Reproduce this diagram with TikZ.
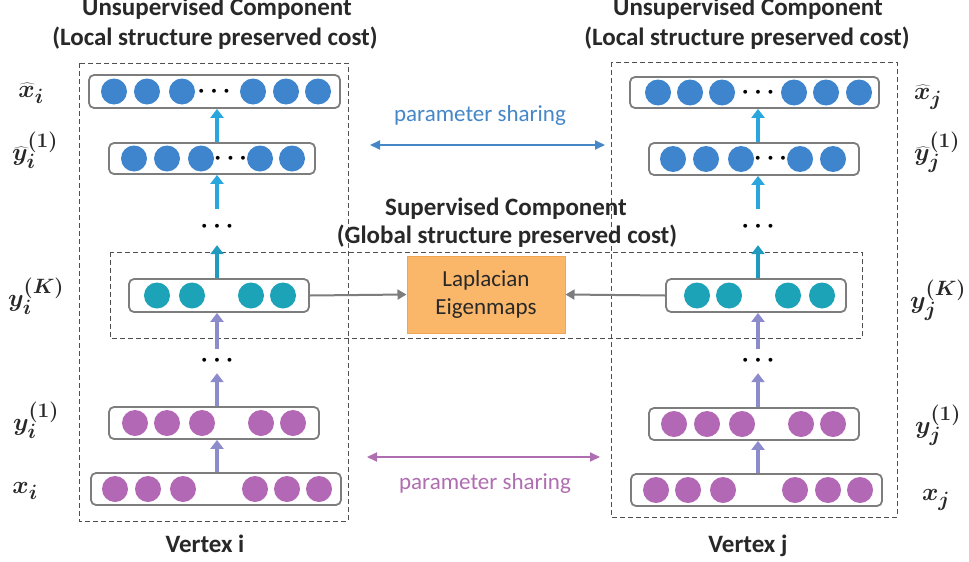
\documentclass[tikz,border=0pt]{standalone}
\usepackage{fontspec}
\setmainfont{Carlito}
\usepackage{bm}
\usetikzlibrary{arrows.meta}
\definecolor{cblue}{RGB}{62,133,205}
\definecolor{cteal}{RGB}{28,163,183}
\definecolor{cpurple}{RGB}{178,104,180}
\definecolor{aLight}{RGB}{41,166,221}
\definecolor{aTeal}{RGB}{30,155,190}
\definecolor{aLav}{RGB}{140,140,204}
\definecolor{boxgray}{RGB}{125,125,125}
\definecolor{lapfill}{RGB}{250,183,106}
\definecolor{lapdraw}{RGB}{240,165,85}
\definecolor{psblue}{RGB}{70,135,200}
\definecolor{pspurple}{RGB}{176,110,178}
\definecolor{txt}{RGB}{40,40,40}
\definecolor{dashgray}{RGB}{80,80,80}
\begin{document}
\begin{tikzpicture}[x=1pt,y=-1pt,
  rowbox/.style={draw=boxgray,line width=1.8pt,rounded corners=5pt,fill=white,inner sep=0pt},
  unit/.style={circle,inner sep=0pt,minimum size=26pt},
  dotsnode/.style={inner sep=0pt,text=black,font=\fontsize{30}{30}\selectfont},
  vdots/.style={inner sep=0pt,text=black,font=\fontsize{30}{30}\selectfont},
  bigarrow/.style={line width=4pt,-{Triangle[width=13pt,length=9pt]}},
  grayarrow/.style={draw=boxgray,line width=2pt,-{Triangle[width=10pt,length=9pt]}},
  psarrow/.style={line width=1.8pt,{Triangle[width=9pt,length=10pt]}-{Triangle[width=9pt,length=10pt]}},
  grpbox/.style={draw=dashgray,line width=0.9pt,dash pattern=on 5pt off 3pt},
  title/.style={text=txt,font=\bfseries\fontsize{25}{28}\selectfont,inner sep=0pt,anchor=base},
  pslabel/.style={font=\fontsize{23}{24}\selectfont,inner sep=0pt},
  mlabel/.style={text=txt,font=\fontsize{30}{30}\selectfont,inner sep=0pt}
]
\useasboundingbox (0,0) rectangle (969,562);
\fill[white] (0,0) rectangle (969,562);

% group boxes
\draw[grpbox] (79,63) rectangle (348,521);
\draw[grpbox] (611,62) rectangle (897,517);
\draw[grpbox] (110,252) rectangle (862,338);

% titles
\node[title] (tL1) at (217,16) {Unsupervised Component};
\node[title] (tL2) at (215,45) {(Local structure preserved cost)};
\node[title] (tR1) at (748,16) {Unsupervised Component};
\node[title] (tR2) at (747,45) {(Local structure preserved cost)};
\node[title] (tS1) at (506,215) {Supervised Component};
\node[title] (tS2) at (507,243) {(Global structure preserved cost)};
\node[title] (vI) at (205,552) {Vertex i};
\node[title] (vJ) at (748,552) {Vertex j};

% vertical dots
\node[vdots,minimum height=36pt] (dA) at (217,227) {$\bm{\cdots}$};
\node[vdots,minimum height=24pt] (dC) at (217,361) {$\bm{\cdots}$};
\node[vdots,minimum height=36pt] (dB) at (758,227) {$\bm{\cdots}$};
\node[vdots,minimum height=24pt] (dD) at (758,361) {$\bm{\cdots}$};

% left rows
\node[rowbox,minimum width=251pt,minimum height=33pt] (L1) at (214.5,91.5) {};
\node[rowbox,minimum width=206pt,minimum height=31pt] (L2) at (212,158.5) {};
\node[rowbox,minimum width=180pt,minimum height=33pt] (L3) at (219,295.5) {};
\node[rowbox,minimum width=210pt,minimum height=32pt] (L4) at (214,423) {};
\node[rowbox,minimum width=250pt,minimum height=32pt] (L5) at (216,489) {};
% right rows
\node[rowbox,minimum width=249pt,minimum height=31pt] (R1) at (754.5,92.5) {};
\node[rowbox,minimum width=210pt,minimum height=32pt] (R2) at (754,159) {};
\node[rowbox,minimum width=180pt,minimum height=33pt] (R3) at (756,295.5) {};
\node[rowbox,minimum width=210pt,minimum height=32pt] (R4) at (754,424) {};
\node[rowbox,minimum width=251pt,minimum height=32pt] (R5) at (756.5,490) {};

% units
\foreach \x [count=\k] in {114,147,182,253,286,318} \node[unit,fill=cblue] (L1u\k) at (\x,91.5) {};
\foreach \x [count=\k] in {134,167,201,260,292} \node[unit,fill=cblue] (L2u\k) at (\x,158.5) {};
\foreach \x [count=\k] in {157,192,251,283} \node[unit,fill=cteal] (L3u\k) at (\x,295.5) {};
\foreach \x [count=\k] in {135,167,202,261,293} \node[unit,fill=cpurple] (L4u\k) at (\x,423) {};
\foreach \x [count=\k] in {115,148,183,255,287,319} \node[unit,fill=cpurple] (L5u\k) at (\x,489) {};
\foreach \x [count=\k] in {658,690,722,794,826,859} \node[unit,fill=cblue] (R1u\k) at (\x,92.5) {};
\foreach \x [count=\k] in {673,706,741,800,833} \node[unit,fill=cblue] (R2u\k) at (\x,159) {};
\foreach \x [count=\k] in {697,729,788,822} \node[unit,fill=cteal] (R3u\k) at (\x,295.5) {};
\foreach \x [count=\k] in {674,707,742,801,833} \node[unit,fill=cpurple] (R4u\k) at (\x,424) {};
\foreach \x [count=\k] in {656,688,723,795,828,860} \node[unit,fill=cpurple] (R5u\k) at (\x,490) {};

% in-row dots
\node[dotsnode] (L1d) at (214,91.5) {$\bm{\cdots}$};
\node[dotsnode] (L2d) at (230.5,158.5) {$\bm{\cdots}$};
\node[dotsnode] (R1d) at (758,92.5) {$\bm{\cdots}$};
\node[dotsnode] (R2d) at (770.5,159) {$\bm{\cdots}$};

% left stack arrows
\draw[bigarrow,aLight] (dA.north) -- (dA.north |- L2.south);
\draw[bigarrow,aLight] (dA |- L2.north) -- (dA |- L1.south);
\draw[bigarrow,aTeal] (dA |- L3.north) -- (dA.south);
\draw[bigarrow,aLav] (dC.north) -- (dC |- L3.south);
\draw[bigarrow,aLav] (dC |- L4.north) -- (dC.south);
\draw[bigarrow,aLav] (dC |- L5.north) -- (dC |- L4.south);
% right stack arrows
\draw[bigarrow,aLight] (dB.north) -- (dB.north |- R2.south);
\draw[bigarrow,aLight] (dB |- R2.north) -- (dB |- R1.south);
\draw[bigarrow,aTeal] (dB |- R3.north) -- (dB.south);
\draw[bigarrow,aLav] (dD.north) -- (dD |- R3.south);
\draw[bigarrow,aLav] (dD |- R4.north) -- (dD.south);
\draw[bigarrow,aLav] (dD |- R5.north) -- (dD |- R4.south);

% Laplacian
\node[draw=lapdraw,fill=lapfill,line width=1pt,minimum width=158pt,minimum height=77pt,align=center,
      text=txt,font=\fontsize{23}{28}\selectfont,inner sep=0pt] (lap) at (486,294.5) {Laplacian\\Eigenmaps};
\draw[grayarrow] (L3.east) -- (lap.west);
\draw[grayarrow] (R3.west) -- (lap.east);

% parameter sharing
\coordinate (psTL) at (370,145);
\coordinate (psTR) at (605,145);
\coordinate (psBL) at (367,457);
\coordinate (psBR) at (600,457);
\draw[psarrow,psblue] (psTL) -- (psTR);
\draw[psarrow,pspurple] (psBL) -- (psBR);
\node[pslabel,text=psblue] (psT) at (480,115) {parameter sharing};
\node[pslabel,text=pspurple] (psB) at (485,483) {parameter sharing};

% math labels
\node[mlabel] (lx) at (31,93) {$\bm{\widehat{x}_i}$};
\node[mlabel] (ly) at (35,150) {$\bm{\widehat{y}_i}^{\bm{(1)}}$};
\node[mlabel] (lyK) at (36,296) {$\bm{y_i^{(K)}}$};
\node[mlabel] (ly1) at (36,420) {$\bm{y_i^{(1)}}$};
\node[mlabel] (lxi) at (25,491) {$\bm{x_i}$};
\node[mlabel] (rx) at (928,97) {$\bm{\widehat{x}_j}$};
\node[mlabel] (ry) at (937,152) {$\bm{\widehat{y}_j}^{\bm{(1)}}$};
\node[mlabel] (ryK) at (938,300) {$\bm{y_j^{(K)}}$};
\node[mlabel] (ry1) at (938,425) {$\bm{y_j^{(1)}}$};
\node[mlabel] (rxj) at (936,500) {$\bm{x_j}$};
\end{tikzpicture}
\end{document}
